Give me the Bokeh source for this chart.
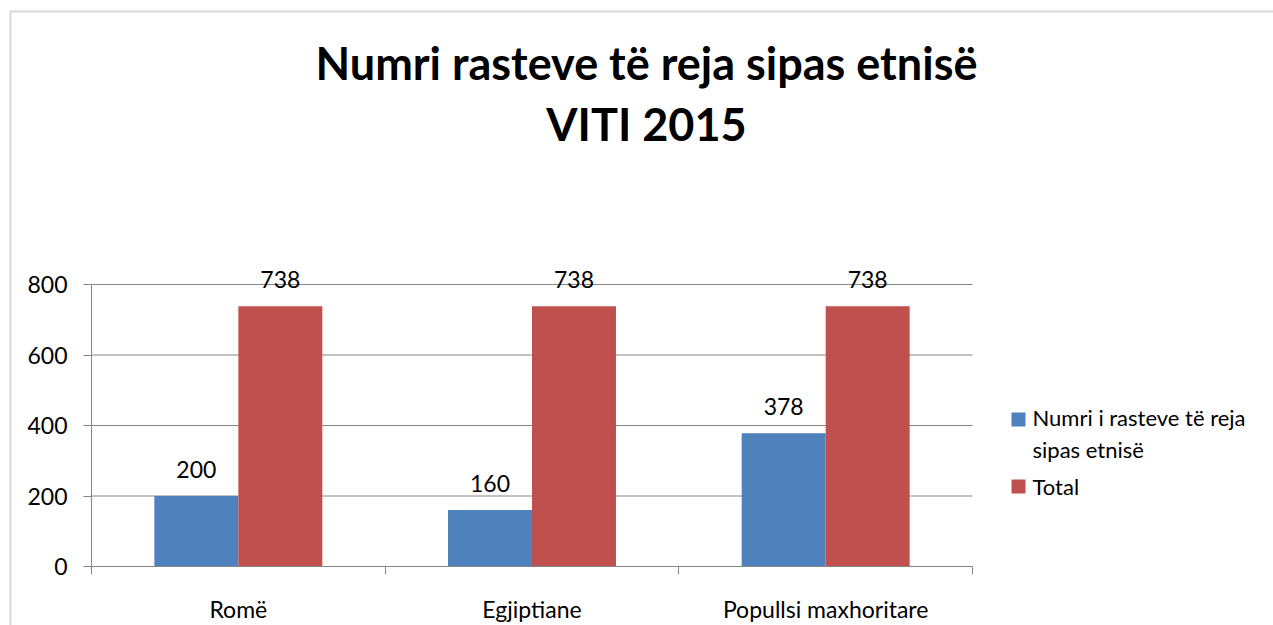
from bokeh.plotting import figure
from bokeh.models import (ColumnDataSource, Range1d, FixedTicker, LabelSet, Label,
                          LinearAxis, BoxAnnotation)
from bokeh.core.properties import value
from bokeh.embed import file_html
from bokeh.resources import INLINE

# ---- data ----
categories = ["Romë", "Egjiptiane", "Popullsi maxhoritare"]
series_names = ["Numri i rasteve të reja sipas etnisë", "Total"]
series_label_lines = [["Numri i rasteve të reja", "sipas etnisë"], ["Total"]]
new_cases = [200, 160, 378]
totals = [738, 738, 738]
y_ticks = [0, 200, 400, 600, 800]
title_lines = ["Numri rasteve të reja sipas etnisë", "VITI 2015"]

BLUE = "#4F81BD"
RED = "#C0504D"
GRID = "#868686"
FONT = "Lato"
series_colors = [BLUE, RED]

# ---- layout (pixels) ----
W, H = 1273, 625
PL, PR, PT, PB = 91, 972, 284, 566      # plot area edges on the canvas
YMAX = 800
ncat = len(categories)
sx = (PR - PL) / ncat
sy = (PB - PT) / YMAX

idx = list(range(ncat))
bar_w = 0.286
src = ColumnDataSource(dict(
    cat=categories,
    xb=[i + 0.5 - bar_w / 2 for i in idx],
    xr=[i + 0.5 + bar_w / 2 for i in idx],
    new=new_cases,
    tot=totals,
    new_s=[str(v) for v in new_cases],
    tot_s=[str(v) for v in totals],
))
grid_src = ColumnDataSource(dict(y=y_ticks, x0=[0] * len(y_ticks), x1=[ncat] * len(y_ticks)))

p = figure(width=W, height=H, output_backend="svg", toolbar_location=None,
           x_range=Range1d(-PL / sx, ncat + (W - PR) / sx),
           y_range=Range1d(-(H - PB) / sy, YMAX + PT / sy),
           min_border=0, x_axis_type=None, y_axis_type=None)
p.outline_line_color = None
p.background_fill_color = "white"
p.border_fill_color = "white"
p.grid.visible = False

# gridlines (plot area only)
p.segment(x0="x0", x1="x1", y0="y", y1="y", source=grid_src,
          line_color=GRID, line_width=1)

rb = p.vbar(x="xb", top="new", width=bar_w, bottom=0, source=src,
            fill_color=BLUE, line_color=None, name=series_names[0])
rr = p.vbar(x="xr", top="tot", width=bar_w, bottom=0, source=src,
            fill_color=RED, line_color=None, name=series_names[1])

# y axis
yax = LinearAxis(fixed_location=0, bounds=(0, YMAX), ticker=FixedTicker(ticks=y_ticks))
yax.axis_line_color = GRID
yax.major_tick_line_color = GRID
yax.major_tick_out = 8
yax.major_tick_in = 0
yax.minor_tick_line_color = None
yax.major_label_standoff = 16
yax.major_label_text_font = FONT
yax.major_label_text_font_size = "23px"
yax.major_label_text_color = "black"
p.add_layout(yax, "left")

# x axis
xax = LinearAxis(fixed_location=0, bounds=(0, ncat),
                 ticker=FixedTicker(ticks=[i + 0.5 for i in idx],
                                    minor_ticks=list(range(ncat + 1))))
xax.major_label_overrides = {i + 0.5: c for i, c in zip(idx, categories)}
xax.axis_line_color = GRID
xax.major_tick_line_color = None
xax.major_tick_out = 0
xax.major_tick_in = 0
xax.minor_tick_line_color = GRID
xax.minor_tick_out = 8
xax.minor_tick_in = 0
xax.major_label_standoff = 20
xax.major_label_text_font = FONT
xax.major_label_text_font_size = "23px"
xax.major_label_text_color = "black"
p.add_layout(xax, "below")

# data labels
for xcol, tcol, scol in (("xb", "new", "new_s"), ("xr", "tot", "tot_s")):
    p.add_layout(LabelSet(x=xcol, y=tcol, text=scol, source=src, y_offset=18,
                          text_align="center", text_baseline="alphabetic",
                          text_font=value(FONT), text_font_size=value("23px"),
                          text_color="black"))

# legend (swatch + wrapped label lines)
swatch_tops = [412, 479]
line_mids = [[417, 449], [486]]
for color, top, lines, mids in zip(series_colors, swatch_tops, series_label_lines, line_mids):
    p.add_layout(BoxAnnotation(left=1011, right=1025, top=H - top, bottom=H - top - 14,
                               left_units="screen", right_units="screen",
                               top_units="screen", bottom_units="screen",
                               fill_color=color, fill_alpha=1, line_color=None))
    for txt, m in zip(lines, mids):
        p.add_layout(Label(x=1032, y=H - m, x_units="screen", y_units="screen",
                           text=txt, text_align="left", text_baseline="middle",
                           text_font=FONT, text_font_size="22px", text_color="black"))

# title
for line, base in zip(title_lines, (62, 123)):
    p.add_layout(Label(x=646, y=H - base, x_units="screen", y_units="screen",
                       text=line, text_align="center", text_baseline="alphabetic",
                       text_font=FONT, text_font_style="bold", text_font_size="45px",
                       text_color="black"))

# chart-area border: only its left and top edges fall on the page
p.add_layout(BoxAnnotation(left=10, right=W + 50, top=H - 11, bottom=-50,
                           left_units="screen", right_units="screen",
                           top_units="screen", bottom_units="screen",
                           fill_color=None, fill_alpha=0,
                           line_color="#7f7f7f", line_width=2))

open("out.html", "w").write(file_html(p, INLINE))
